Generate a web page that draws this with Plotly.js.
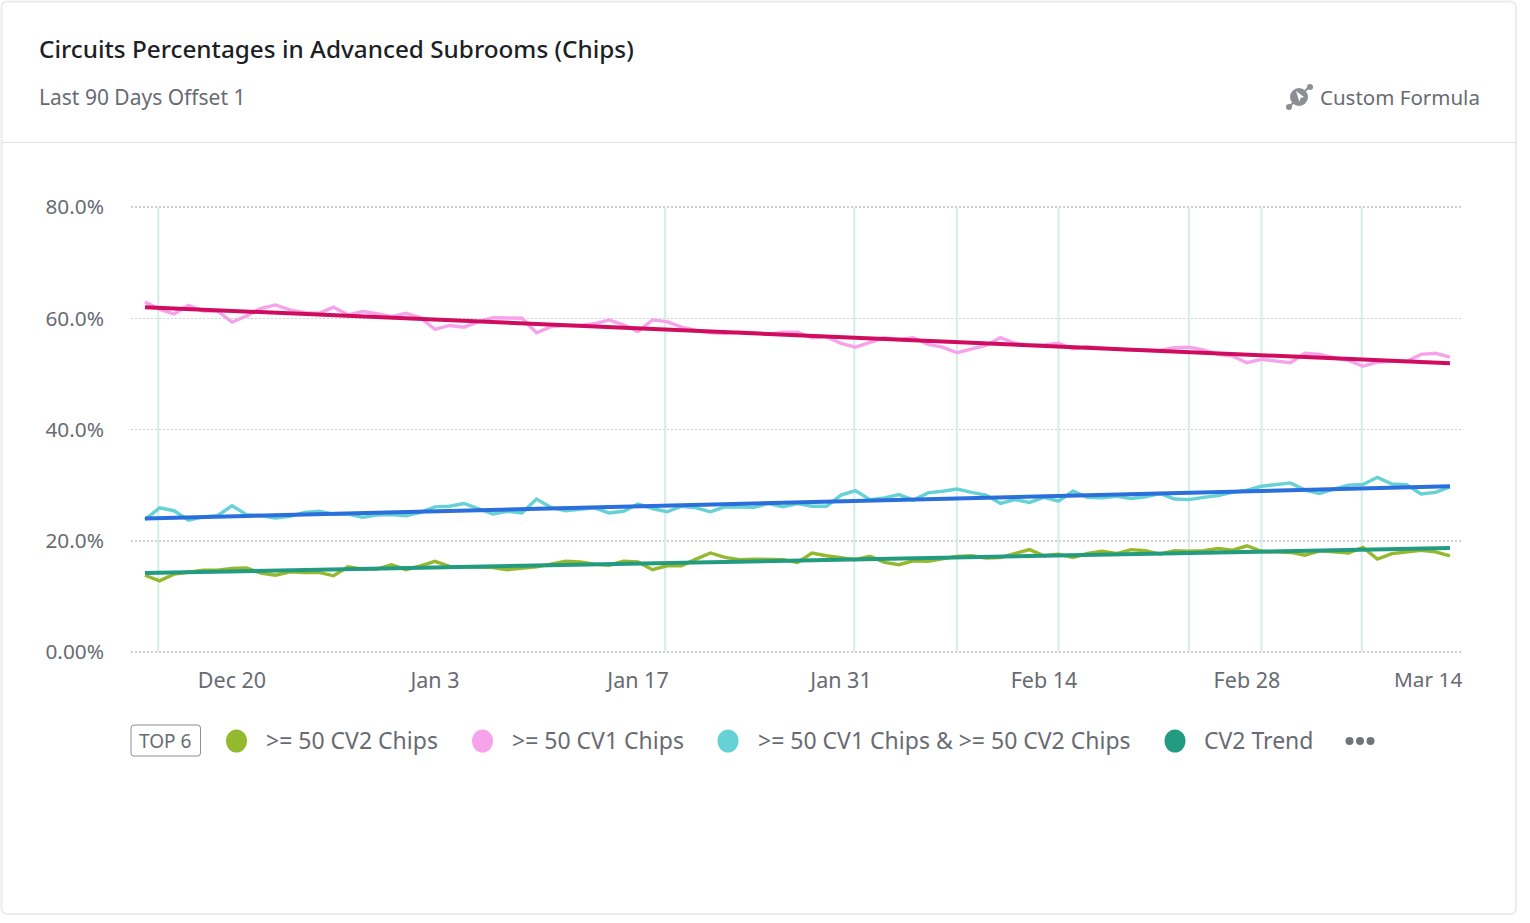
<!DOCTYPE html>
<html>
<head>
<meta charset="utf-8">
<script src="https://cdn.plot.ly/plotly-3.0.1.min.js"></script>
<style>html,body{margin:0;padding:0;background:#ffffff;overflow:hidden}#chart{width:1530px;height:923px}</style>
</head>
<body>
<div id="chart"></div>
<script>
const firstDay = '2022-12-14';
const cv2Chips = [13.8,12.8,14.0,14.3,14.7,14.7,15.0,15.1,14.2,13.8,14.4,14.3,14.3,13.7,15.3,14.9,14.9,15.7,14.8,15.5,16.3,15.4,15.3,15.2,15.2,14.8,15.1,15.3,15.8,16.3,16.2,15.8,15.6,16.3,16.2,14.8,15.5,15.5,16.7,17.8,17.0,16.6,16.7,16.6,16.6,16.1,17.8,17.3,16.9,16.6,17.2,16.1,15.7,16.4,16.3,16.7,17.2,17.3,16.9,17.0,17.7,18.4,17.3,17.6,17.0,17.7,18.1,17.7,18.4,18.2,17.6,18.2,18.1,18.2,18.6,18.3,19.1,18.1,18.0,17.9,17.4,18.2,18.0,17.8,18.8,16.7,17.7,18.0,18.3,18.0,17.3];
const cv1Chips = [62.9,61.6,60.8,62.3,61.3,61.3,59.3,60.4,61.8,62.4,61.5,61.0,60.9,62.0,60.6,61.2,60.8,60.3,60.9,60.1,58.0,58.7,58.4,59.4,60.1,60.0,60.0,57.4,58.5,58.7,58.7,59.0,59.7,58.8,57.6,59.7,59.4,58.4,57.8,57.4,57.3,57.5,57.4,57.1,57.5,57.5,56.5,56.7,55.5,54.8,55.7,56.5,56.2,56.5,55.3,54.8,53.8,54.4,55.1,56.5,55.5,55.2,55.2,55.5,54.5,54.9,54.6,54.4,54.3,54.2,54.2,54.7,54.8,54.3,53.5,53.2,52.0,52.6,52.3,52.0,53.7,53.5,52.9,52.4,51.4,52.1,52.3,52.2,53.5,53.7,53.0];
const bothChips = [23.8,25.9,25.4,23.7,24.3,24.5,26.3,24.7,24.5,24.1,24.4,25.1,25.3,24.8,24.8,24.2,24.6,24.7,24.5,25.1,26.1,26.2,26.7,25.8,24.8,25.3,25.0,27.5,26.0,25.4,25.6,25.9,25.0,25.3,26.6,25.8,25.2,26.2,25.9,25.2,26.1,26.0,26.0,26.7,26.1,26.7,26.2,26.2,28.2,29.0,27.4,27.7,28.3,27.3,28.6,28.9,29.3,28.7,28.2,26.7,27.4,26.9,27.8,27.1,28.9,27.8,27.7,28.0,27.6,27.9,28.5,27.5,27.4,27.8,28.1,28.7,29.1,29.8,30.1,30.4,29.1,28.5,29.3,30.0,30.1,31.4,30.2,30.1,28.4,28.7,29.7];
const trendEnds = ['2022-12-14','2023-03-14'];
const cv2Trend = [14.2,18.7];
const cv1Trend = [62.0,51.9];
const bothTrend = [24.0,29.8];
const releaseDates = ['2022-12-14 22:00','2023-01-18 21:00','2023-01-31 22:00','2023-02-08','2023-02-15','2023-02-24','2023-03-01','2023-03-07 22:00'];
const xTickVals = ['2022-12-20','2023-01-03','2023-01-17','2023-01-31','2023-02-14','2023-02-28'];
const xTickText = ['Dec 20','Jan 3','Jan 17','Jan 31','Feb 14','Feb 28'];
const lastTickVal = '2023-03-14';
const lastTickText = 'Mar 14';
const yTickVals = [0,20,40,60,80];
const yTickText = ['0.00%','20.0%','40.0%','60.0%','80.0%'];
const legendNames = ['>= 50 CV2 Chips','>= 50 CV1 Chips','>= 50 CV1 Chips & >= 50 CV2 Chips','CV2 Trend'];
const titleText = 'Circuits Percentages in Advanced Subrooms (Chips)';
const subtitleText = 'Last 90 Days Offset 1';
const sourceText = 'Custom Formula';

const W = 1530, H = 923;
const FONT = '"Noto Sans", sans-serif';
const GREY = '#686b71';
const px = v => v / W;
const py = v => 1 - v / H;

const days = cv2Chips.map((_, i) => {
  const d = new Date(firstDay + 'T00:00:00Z');
  d.setUTCDate(d.getUTCDate() + i);
  return d.toISOString().slice(0, 10);
});

const relX = [], relY = [];
releaseDates.forEach(d => { relX.push(d, d, null); relY.push(0, 80, null); });

const line = (x, y, color, name, width) => ({
  x, y, name, type: 'scatter', mode: 'lines', showlegend: false, hoverinfo: 'skip',
  line: { color, width, shape: 'linear' }
});

const traces = [
  { x: relX, y: relY, type: 'scatter', mode: 'lines', showlegend: false, hoverinfo: 'skip', line: { color: '#d6efea', width: 2.2 } },
  line(days, cv2Chips, '#95b92e', legendNames[0], 3.4),
  line(days, cv1Chips, '#f7a3ec', legendNames[1], 3.4),
  line(days, bothChips, '#66d2d6', legendNames[2], 3.4),
  line(trendEnds, cv2Trend, '#239b80', legendNames[3], 4),
  line(trendEnds, cv1Trend, '#d00c5e', 'CV1 Trend', 4),
  line(trendEnds, bothTrend, '#2a6fdb', 'Both Trend', 4)
];

const txt = (x, y, text, size, color, anchor, weight) => ({
  xref: 'paper', yref: 'paper', x: px(x), y: py(y), text, showarrow: false,
  xanchor: anchor || 'left', yanchor: 'middle', borderpad: 0,
  font: { family: FONT, size, color, weight: weight || 400 }
});

const oval = (cx, cy, color) => ({
  type: 'circle', xref: 'paper', yref: 'paper', layer: 'above',
  x0: px(cx - 10.5), x1: px(cx + 10.5), y0: py(cy + 11.5), y1: py(cy - 11.5),
  fillcolor: color, line: { width: 0 }
});
const pathOf = pts => pts.map((p, i) => (i ? 'L' : 'M') + px(p[0]) + ',' + py(p[1])).join(' ');
const rounded = (x0, y0, x1, y1, r) => [
  'M', px(x0 + r), py(y0),
  'L', px(x1 - r), py(y0), 'Q', px(x1), py(y0), px(x1), py(y0 + r),
  'L', px(x1), py(y1 - r), 'Q', px(x1), py(y1), px(x1 - r), py(y1),
  'L', px(x0 + r), py(y1), 'Q', px(x0), py(y1), px(x0), py(y1 - r),
  'L', px(x0), py(y0 + r), 'Q', px(x0), py(y0), px(x0 + r), py(y0), 'Z'
].join(' ');

const shapes = [
  { type: 'path', xref: 'paper', yref: 'paper', layer: 'below', path: rounded(1.5, 1.5, 1516, 914, 6), fillcolor: '#ffffff', line: { color: '#ececec', width: 2 } },
  { type: 'line', xref: 'paper', yref: 'paper', x0: px(2), x1: px(1516), y0: py(142.5), y1: py(142.5), line: { color: '#e0e0e0', width: 1 } },
  { type: 'path', xref: 'paper', yref: 'paper', path: rounded(131, 725, 200.5, 756, 3), line: { color: '#8b8e93', width: 1 }, fillcolor: 'rgba(0,0,0,0)' },
  oval(236.5, 741, '#95b92e'),
  oval(482.5, 741, '#f7a3ec'),
  oval(728, 741, '#66d2d6'),
  oval(1175, 741, '#239b80'),
  ...[1349.5, 1360, 1370.5].map(c => ({ type: 'circle', xref: 'paper', yref: 'paper', x0: px(c - 4), x1: px(c + 4), y0: py(745), y1: py(737), fillcolor: '#70737a', line: { width: 0 } })),
  { type: 'line', xref: 'paper', yref: 'paper', x0: px(1289), x1: px(1309), y0: py(107), y1: py(87), line: { color: '#8b8e93', width: 2 } },
  { type: 'circle', xref: 'paper', yref: 'paper', x0: px(1286), x1: px(1292), y0: py(110), y1: py(104), fillcolor: '#8b8e93', line: { width: 0 } },
  { type: 'circle', xref: 'paper', yref: 'paper', x0: px(1307), x1: px(1313), y0: py(90), y1: py(84), fillcolor: '#8b8e93', line: { width: 0 } },
  { type: 'circle', xref: 'paper', yref: 'paper', x0: px(1290), x1: px(1308), y0: py(106), y1: py(88), fillcolor: '#8b8e93', line: { width: 0 } },
  { type: 'path', xref: 'paper', yref: 'paper', path: pathOf([[1296, 91], [1304, 97], [1300.5, 98], [1299.5, 102]]) + ' Z', fillcolor: '#ffffff', line: { width: 0 } }
];

const annotations = [
  txt(38, 48.5, titleText, 24.3, '#1c1f26', 'left', 500),
  txt(38, 97.5, subtitleText, 21, GREY),
  txt(1481, 97.5, sourceText, 20.5, GREY, 'right'),
  txt(165, 741, 'TOP 6', 19, GREY, 'center'),
  txt(265, 740, legendNames[0], 23, GREY),
  txt(511, 740, legendNames[1], 23, GREY),
  txt(757, 740, legendNames[2], 23, GREY),
  txt(1203, 740, legendNames[3], 23, GREY),
  { xref: 'x', yref: 'paper', x: lastTickVal, y: py(679), xshift: 14, text: lastTickText, showarrow: false, xanchor: 'right', yanchor: 'middle', font: { family: FONT, size: 20.8, color: GREY } }
];

const layout = {
  width: W, height: H,
  margin: { l: 0, r: 0, t: 0, b: 0, pad: 0 },
  paper_bgcolor: '#ffffff', plot_bgcolor: 'rgba(0,0,0,0)',
  showlegend: false,
  font: { family: FONT, color: GREY },
  xaxis: {
    type: 'date', domain: [px(131), px(1463)],
    range: ['2022-12-13 00:49', '2023-03-14 21:36'],
    tickmode: 'array', tickvals: xTickVals, ticktext: xTickText,
    showgrid: false, zeroline: false, showline: false, ticks: '',
    ticklabelstandoff: 11, tickfont: { family: FONT, size: 21.5, color: GREY }
  },
  yaxis: {
    domain: [py(654), py(205)], range: [-0.36, 80.36],
    tickmode: 'array', tickvals: yTickVals, ticktext: yTickText,
    showgrid: true, gridcolor: '#cfcfcf', griddash: '2px,2px', gridwidth: 1.5,
    zeroline: false, showline: false, ticks: '',
    ticklabelstandoff: 26, tickfont: { family: FONT, size: 20.8, color: GREY }
  },
  shapes, annotations
};

Plotly.newPlot('chart', traces, layout, { displayModeBar: false, staticPlot: true });
</script>
</body>
</html>
